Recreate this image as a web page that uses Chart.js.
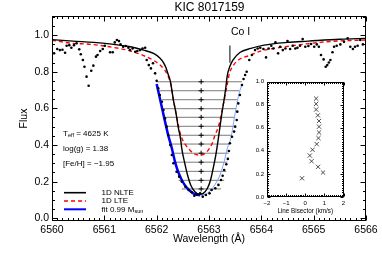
<!DOCTYPE html>
<html>
<head>
<meta charset="utf-8">
<script src="https://cdn.jsdelivr.net/npm/chart.js@4.4.1/dist/chart.umd.min.js"></script>
<style>
  html, body { margin: 0; padding: 0; background: #fff; }
  #wrap { position: relative; width: 382px; height: 255px; }
  #main { position: absolute; left: 0; top: 0; }
  #inset { position: absolute; left: 240px; top: 72px; }
</style>
</head>
<body>
<div id="wrap">
  <canvas id="main" width="382" height="255"></canvas>
  <canvas id="inset" width="112" height="150"></canvas>
</div>
<script>
// --- data ---
const nlteWl = [6560.0, 6560.4, 6560.8, 6561.1, 6561.5, 6561.75, 6561.95, 6562.06, 6562.13, 6562.18, 6562.22, 6562.26, 6562.29, 6562.32, 6562.37, 6562.41, 6562.46, 6562.48, 6562.53, 6562.59, 6562.65, 6562.73, 6562.82, 6562.89, 6562.97, 6563.03, 6563.08, 6563.13, 6563.17, 6563.21, 6563.25, 6563.29, 6563.32, 6563.35, 6563.40, 6563.46, 6563.59, 6563.8, 6564.05, 6564.5, 6564.9, 6565.5, 6566.0];
const nlteFlux = [0.975, 0.967, 0.960, 0.952, 0.936, 0.918, 0.898, 0.875, 0.850, 0.820, 0.785, 0.750, 0.700, 0.645, 0.573, 0.500, 0.427, 0.380, 0.309, 0.236, 0.182, 0.145, 0.131, 0.136, 0.164, 0.209, 0.273, 0.345, 0.418, 0.500, 0.580, 0.650, 0.710, 0.780, 0.830, 0.865, 0.905, 0.927, 0.945, 0.960, 0.967, 0.977, 0.982];

const lteWl = [6560.0, 6560.35, 6560.75, 6561.1, 6561.5, 6561.75, 6561.95, 6562.07, 6562.15, 6562.22, 6562.28, 6562.32, 6562.37, 6562.42, 6562.47, 6562.53, 6562.61, 6562.70, 6562.82, 6562.93, 6563.01, 6563.07, 6563.11, 6563.18, 6563.24, 6563.29, 6563.34, 6563.39, 6563.47, 6563.56, 6563.79, 6563.98, 6564.23, 6564.55, 6564.87, 6565.19, 6565.51, 6566.0];
const lteFlux = [0.972, 0.956, 0.949, 0.936, 0.913, 0.888, 0.860, 0.835, 0.810, 0.775, 0.720, 0.645, 0.573, 0.500, 0.445, 0.410, 0.380, 0.355, 0.345, 0.355, 0.382, 0.415, 0.450, 0.500, 0.573, 0.645, 0.718, 0.790, 0.836, 0.864, 0.890, 0.912, 0.927, 0.940, 0.952, 0.962, 0.968, 0.973];

// fit 0.99 Msun: blue (blue wing) and light blue (red wing)
const fitBlueWl = [6562.00, 6562.10, 6562.22, 6562.29, 6562.35, 6562.41, 6562.48, 6562.56, 6562.64, 6562.73, 6562.83];
const fitBlueFlux = [0.733, 0.605, 0.454, 0.382, 0.309, 0.254, 0.209, 0.172, 0.149, 0.131, 0.126];
const fitRedWl = [6562.83, 6562.93, 6563.02, 6563.11, 6563.21, 6563.29, 6563.35, 6563.42, 6563.50, 6563.56, 6563.63];
const fitRedFlux = [0.126, 0.131, 0.149, 0.182, 0.236, 0.309, 0.382, 0.440, 0.573, 0.663, 0.733];

const obsWl = [6559.99, 6560.04, 6560.10, 6560.15, 6560.20, 6560.25, 6560.28, 6560.33, 6560.37, 6560.42, 6560.47, 6560.52, 6560.55, 6560.59, 6560.62, 6560.66, 6560.70, 6560.75, 6560.79, 6560.84, 6560.87, 6560.92, 6560.97, 6561.01, 6561.11, 6561.16, 6561.20, 6561.24, 6561.28, 6561.31, 6561.36, 6561.41, 6561.46, 6561.49, 6561.54, 6561.59, 6561.63, 6561.68, 6561.73, 6561.78, 6561.81, 6561.85, 6561.89, 6561.93, 6561.97, 6562.00,
  6562.03, 6562.06, 6562.10, 6562.13, 6562.16, 6562.19, 6562.22, 6562.26, 6562.29, 6562.32, 6562.38, 6562.43, 6562.48, 6562.55, 6562.61, 6562.67, 6562.72, 6562.77, 6562.83, 6562.88, 6562.94, 6563.01, 6563.05, 6563.12, 6563.18, 6563.23, 6563.26, 6563.29, 6563.33, 6563.36, 6563.38, 6563.40, 6563.44, 6563.48, 6563.50, 6563.53, 6563.54, 6563.56, 6563.59, 6563.63, 6563.66, 6563.69, 6563.72, 6563.77, 6563.82, 6563.88,
  6563.93, 6563.98, 6564.04, 6564.09, 6564.14, 6564.19, 6564.23, 6564.27, 6564.32, 6564.36, 6564.41, 6564.46, 6564.50, 6564.55, 6564.60, 6564.65, 6564.69, 6564.74, 6564.79, 6564.84, 6564.90, 6564.95, 6565.01, 6565.06, 6565.10, 6565.14, 6565.19, 6565.23, 6565.26, 6565.29, 6565.32, 6565.36, 6565.39, 6565.44, 6565.51, 6565.58, 6565.65, 6565.70, 6565.75, 6565.79, 6565.84, 6565.89, 6565.94];
const obsFlux = [0.949, 0.900, 0.924, 0.918, 0.920, 0.903, 0.942, 0.945, 0.931, 0.945, 0.955, 0.922, 0.895, 0.864, 0.827, 0.773, 0.723, 0.805, 0.833, 0.882, 0.891, 0.913, 0.924, 0.942, 0.906, 0.906, 0.960, 0.973, 0.967, 0.949, 0.936, 0.940, 0.931, 0.918, 0.927, 0.909, 0.913, 0.918, 0.927, 0.931, 0.864, 0.836, 0.818, 0.846, 0.791, 0.750,
  0.709, 0.673, 0.636, 0.591, 0.545, 0.500, 0.454, 0.400, 0.345, 0.300, 0.254, 0.227, 0.200, 0.172, 0.154, 0.142, 0.123, 0.131, 0.136, 0.118, 0.127, 0.136, 0.154, 0.164, 0.182, 0.209, 0.232, 0.263, 0.295, 0.324, 0.367, 0.409, 0.445, 0.473, 0.500, 0.536, 0.582, 0.627, 0.673, 0.727, 0.760, 0.782, 0.800, 0.864, 0.891, 0.918,
  0.927, 0.931, 0.924, 0.878, 0.927, 0.942, 0.927, 0.960, 0.900, 0.936, 0.918, 0.927, 0.967, 0.924, 0.942, 0.927, 0.931, 0.942, 0.978, 0.936, 0.940, 0.951, 0.936, 0.949, 0.936, 0.891, 0.867, 0.827, 0.836, 0.850, 0.864, 0.906, 0.936, 0.942, 0.949, 0.963, 0.982, 0.936, 0.924, 0.936, 0.942, 0.973, 0.949];

// bisector levels drawn across the line, with a + at the line centre
const levelFlux = [0.745, 0.696, 0.647, 0.598, 0.551, 0.502, 0.453, 0.405, 0.355, 0.306, 0.256, 0.207, 0.160];
const levelLeft = [6562.00, 6562.05, 6562.10, 6562.13, 6562.16, 6562.19, 6562.22, 6562.26, 6562.29, 6562.32, 6562.37, 6562.42, 6562.48];
const levelRight = [6563.63, 6563.58, 6563.55, 6563.52, 6563.50, 6563.48, 6563.44, 6563.40, 6563.37, 6563.35, 6563.33, 6563.29, 6563.23];
const levelCentre = 6562.85;

// Co I marker
const coWl = 6563.40;
const coFlux = [0.849, 0.943];

// inset: line bisector
const bisVel = [0.57, 0.57, 0.57, 0.66, 0.72, 0.72, 0.72, 0.69, 0.60, 0.38, 0.24, 0.33, 0.67, 0.93, -0.17];
const bisLevel = [0.852, 0.806, 0.757, 0.707, 0.658, 0.609, 0.559, 0.510, 0.458, 0.409, 0.359, 0.310, 0.261, 0.212, 0.162];

const FONT = "'Liberation Sans', Arial, Helvetica, sans-serif";

function pts(xs, ys) { return xs.map((x, i) => ({ x: x, y: ys[i] })); }

const levelSegs = [];
levelFlux.forEach((f, i) => {
  levelSegs.push({ x: levelLeft[i], y: f }, { x: levelRight[i], y: f }, { x: levelRight[i], y: null });
});

// box frame with inward major/minor ticks on all four sides
const frameTicks = {
  id: 'frameTicks',
  afterDatasetsDraw(chart, args, o) {
    const { ctx, chartArea: a, scales: { x, y } } = chart;
    ctx.save();
    ctx.strokeStyle = '#000';
    ctx.lineWidth = 1;
    const L = Math.round(a.left) + 0.5, R = Math.round(a.right) - 0.5;
    const T = Math.round(a.top) + 0.5, B = Math.round(a.bottom) - 0.5;
    ctx.strokeRect(L, T, R - L, B - T);
    ctx.beginPath();
    for (let i = Math.ceil(x.min / o.xMinor - 1e-6); i * o.xMinor <= x.max + 1e-6; i++) {
      const v = i * o.xMinor;
      const maj = Math.abs(v / o.xMajor - Math.round(v / o.xMajor)) < 1e-4;
      const len = maj ? o.majLen : o.minLen;
      const px = Math.round(x.getPixelForValue(v)) + 0.5;
      ctx.moveTo(px, B); ctx.lineTo(px, B - len);
      ctx.moveTo(px, T); ctx.lineTo(px, T + len);
    }
    for (let i = Math.ceil(y.min / o.yMinor - 1e-6); i * o.yMinor <= y.max + 1e-6; i++) {
      const v = i * o.yMinor;
      const maj = Math.abs(v / o.yMajor - Math.round(v / o.yMajor)) < 1e-4;
      const len = maj ? o.majLen : o.minLen;
      const py = Math.round(y.getPixelForValue(v)) + 0.5;
      ctx.moveTo(L, py); ctx.lineTo(L + len, py);
      ctx.moveTo(R, py); ctx.lineTo(R - len, py);
    }
    ctx.stroke();
    ctx.restore();
  }
};

function subText(ctx, parts, x, y, size) {
  let cx = x;
  parts.forEach(p => {
    const sub = p[1];
    ctx.font = (sub ? size * 0.7 : size) + 'px ' + FONT;
    ctx.fillText(p[0], cx, sub ? y + size * 0.25 : y);
    cx += ctx.measureText(p[0]).width;
  });
}

const labels = {
  id: 'labels',
  afterDraw(chart) {
    const ctx = chart.ctx;
    ctx.save();
    ctx.fillStyle = '#000';
    ctx.textBaseline = 'middle';
    ctx.textAlign = 'center';
    ctx.font = '12px ' + FONT;
    ctx.fillText('KIC 8017159', 209.5, 8);
    ctx.textAlign = 'left';
    ctx.font = '10.5px ' + FONT;
    ctx.fillText('Co I', 231, 32);
    subText(ctx, [['T'], ['eff', 1], [' = 4625 K']], 63, 133.5, 8);
    subText(ctx, [['log(g) = 1.38']], 63, 148.5, 8);
    subText(ctx, [['[Fe/H] = \u22121.95']], 63, 163.5, 8);
    // legend
    const rows = [
      { y: 192.7, color: '#000', w: 1.6, dash: [], parts: [['1D NLTE']] },
      { y: 201, color: '#f00', w: 1.6, dash: [4, 3], parts: [['1D LTE']] },
      { y: 209.3, color: '#0000ff', w: 2, dash: [], parts: [['fit 0.99 M'], ['sun', 1]] }
    ];
    rows.forEach(r => {
      ctx.beginPath();
      ctx.strokeStyle = r.color;
      ctx.lineWidth = r.w;
      ctx.setLineDash(r.dash);
      ctx.moveTo(64, r.y); ctx.lineTo(86, r.y);
      ctx.stroke();
      ctx.setLineDash([]);
      subText(ctx, r.parts, 101.5, r.y, 8);
    });
    ctx.restore();
  }
};

const tickFont = { family: FONT, size: 10.5 };

new Chart(document.getElementById('main'), {
  type: 'scatter',
  data: {
    datasets: [
      { label: 'observed', data: pts(obsWl, obsFlux), pointRadius: 1.3, pointBackgroundColor: '#000', pointBorderWidth: 0, showLine: false, order: 0 },
      { label: '1D NLTE', data: pts(nlteWl, nlteFlux), showLine: true, borderColor: '#000', borderWidth: 1.4, pointRadius: 0, cubicInterpolationMode: 'monotone', order: 1 },
      { label: '1D LTE', data: pts(lteWl, lteFlux), showLine: true, borderColor: '#ff0000', borderWidth: 1.4, borderDash: [4, 3], pointRadius: 0, cubicInterpolationMode: 'monotone', order: 2 },
      { label: 'fit 0.99 Msun', data: pts(fitBlueWl, fitBlueFlux), showLine: true, borderColor: '#0000ff', borderWidth: 2.5, pointRadius: 0, cubicInterpolationMode: 'monotone', order: 3 },
      { label: 'fit red wing', data: pts(fitRedWl, fitRedFlux), showLine: true, borderColor: '#7aa3ff', borderWidth: 1, pointRadius: 0, cubicInterpolationMode: 'monotone', order: 4 },
      { label: 'centre', data: levelFlux.map(f => ({ x: levelCentre, y: f })), pointStyle: 'cross', pointRadius: 2.5, borderColor: '#000', borderWidth: 1, showLine: false, order: 5 },
      { label: 'levels', data: levelSegs, showLine: true, spanGaps: false, borderColor: '#7a7a7a', borderWidth: 1, pointRadius: 0, order: 6 },
      { label: 'Co I', data: [{ x: coWl, y: coFlux[0] }, { x: coWl, y: coFlux[1] }], showLine: true, borderColor: '#000', borderWidth: 1, pointRadius: 0, order: 7 }
    ]
  },
  options: {
    responsive: false,
    animation: false,
    layout: { padding: { top: 16, right: 16, left: 0, bottom: 0 } },
    scales: {
      x: {
        type: 'linear', min: 6560, max: 6566,
        afterFit: s => { s.height = 34; },
        grid: { display: false, drawTicks: false },
        border: { display: false },
        ticks: { stepSize: 1, padding: 3, color: '#000', font: tickFont, maxRotation: 0, autoSkip: false, callback: v => String(v) },
        title: { display: true, text: 'Wavelength (Å)', color: '#000', font: tickFont, padding: { top: 0, bottom: 9.5 } }
      },
      y: {
        min: -0.015, max: 1.104,
        afterFit: s => { s.width = 52; },
        grid: { display: false, drawTicks: false },
        border: { display: false },
        ticks: { stepSize: 0.2, includeBounds: false, padding: 3, color: '#000', font: tickFont, callback: v => v.toFixed(1) },
        title: { display: true, text: 'Flux', color: '#000', font: tickFont, padding: { top: 17.5, bottom: 0 } }
      }
    },
    plugins: {
      legend: { display: false },
      tooltip: { enabled: false },
      frameTicks: { xMajor: 1, xMinor: 0.1, yMajor: 0.2, yMinor: 0.05, majLen: 5, minLen: 2.5 }
    }
  },
  plugins: [frameTicks, labels]
});

const smallFont = { family: FONT, size: 6 };

new Chart(document.getElementById('inset'), {
  type: 'scatter',
  data: {
    datasets: [
      { label: 'bisector', data: pts(bisVel, bisLevel), pointStyle: 'crossRot', pointRadius: 3, borderColor: '#222', backgroundColor: '#222', borderWidth: 0.8 }
    ]
  },
  options: {
    responsive: false,
    animation: false,
    layout: { padding: { top: 9.5, right: 8.5, left: 0, bottom: 0 } },
    scales: {
      x: {
        min: -2, max: 2,
        afterFit: s => { s.height = 25; },
        grid: { display: false, drawTicks: false },
        border: { display: false },
        ticks: { stepSize: 1, padding: 3, color: '#000', font: smallFont, maxRotation: 0, callback: v => String(v).replace('-', '\u2212') },
        title: { display: true, text: 'Line Bisector (km/s)', color: '#000', font: { family: FONT, size: 6.3 }, padding: { top: 0, bottom: 6.7 } }
      },
      y: {
        min: 0, max: 1,
        afterFit: s => { s.width = 27; },
        grid: { display: false, drawTicks: false },
        border: { display: false },
        ticks: { stepSize: 0.2, padding: 3, color: '#000', font: smallFont, callback: v => v.toFixed(1) }
      }
    },
    plugins: {
      legend: { display: false },
      tooltip: { enabled: false },
      frameTicks: { xMajor: 1, xMinor: 0.1, yMajor: 0.2, yMinor: 0.02, majLen: 3, minLen: 1.5 }
    }
  },
  plugins: [frameTicks]
});
</script>
</body>
</html>
